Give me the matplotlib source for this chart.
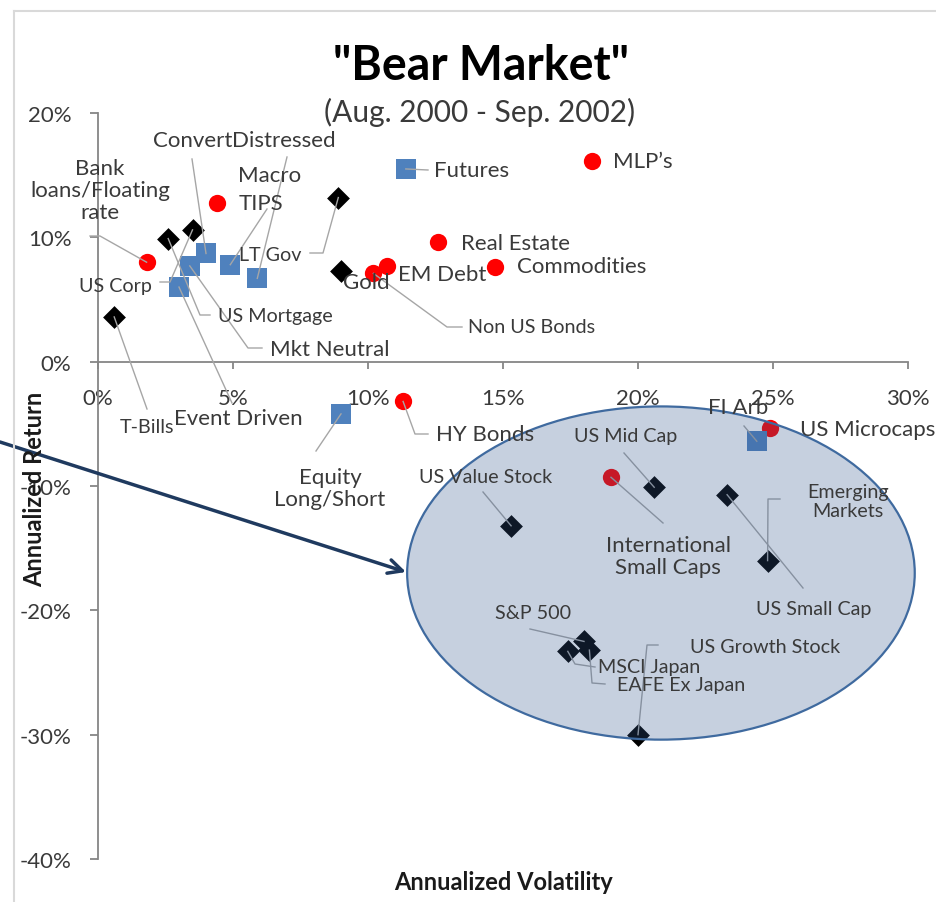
import matplotlib
matplotlib.use("Agg")
import matplotlib.pyplot as plt
from matplotlib.patches import Ellipse
from matplotlib.lines import Line2D

plt.rcParams['font.family'] = ['Lato', 'DejaVu Sans']

# ---------------- data ----------------
circle_names = ["Bank\nloans/Floating\nrate", "TIPS", "MLP\u2019s", "Real Estate", "Commodities",
                "EM Debt", "Non US Bonds", "HY Bonds", "US Microcaps", "International\nSmall Caps"]
circle_vol = [1.8, 4.4, 18.3, 12.6, 14.7, 10.7, 10.2, 11.3, 24.9, 19.0]
circle_ret = [8.0, 12.8, 16.1, 9.6, 7.6, 7.7, 7.1, -3.2, -5.3, -9.3]

square_names = ["Futures", "Event Driven", "Mkt Neutral", "Convert", "Macro", "Distressed",
                "Equity\nLong/Short", "FI Arb"]
square_vol = [11.4, 3.0, 3.4, 4.0, 4.9, 5.9, 9.0, 24.4]
square_ret = [15.5, 6.0, 7.7, 8.7, 7.8, 6.7, -4.2, -6.4]

diamond_names = ["T-Bills", "US Mortgage", "US Corp", "LT Gov", "Gold", "US Mid Cap", "US Small Cap",
                 "Emerging\nMarkets", "US Value Stock", "S&P 500", "MSCI Japan", "EAFE Ex Japan",
                 "US Growth Stock"]
diamond_vol = [0.6, 2.6, 3.5, 8.9, 9.0, 20.6, 23.3, 24.8, 15.3, 18.0, 17.4, 18.2, 20.0]
diamond_ret = [3.6, 9.9, 10.6, 13.2, 7.3, -10.1, -10.7, -16.0, -13.2, -22.5, -23.3, -23.2, -30.0]

x_ticks = [0, 5, 10, 15, 20, 25, 30]
y_ticks = [-40, -30, -20, -10, 0, 10, 20]

# ---------------- layout helpers ----------------
W, H = 936, 903
AX_L, AX_R, AX_T, AX_B = 98, 908, 114, 860


def P(x, y):
    """reference-pixel position -> data coords (layout only)"""
    return ((x - AX_L) / (AX_R - AX_L) * 30.0, 20.0 - (y - AX_T) / (AX_B - AX_T) * 60.0)


BIG, SMALL = 16, 14.2
# name: (px, py, ha, size, leader pixel points)
labels = {
    "Bank\nloans/Floating\nrate": (100, 191, 'center', BIG, [(90, 237), (100, 237)]),
    "TIPS": (239, 204, 'left', BIG, []),
    "MLP\u2019s": (613, 162, 'left', BIG, []),
    "Real Estate": (461, 244, 'left', BIG, []),
    "Commodities": (517, 267, 'left', BIG, []),
    "EM Debt": (398, 275, 'left', BIG, []),
    "Non US Bonds": (468, 328, 'left', SMALL, [(462, 328), (447, 328)]),
    "HY Bonds": (436, 435, 'left', BIG, [(428, 435), (415, 435)]),
    "US Microcaps": (800, 430, 'left', BIG, []),
    "International\nSmall Caps": (668, 557, 'center', BIG, [(663, 524)]),
    "Futures": (434, 171, 'left', BIG, [(428, 171)]),
    "Event Driven": (238, 419, 'center', BIG, [(232, 404)]),
    "Mkt Neutral": (270, 350, 'left', BIG, [(262, 349), (248, 349)]),
    "Convert": (232, 141, 'right', BIG, [(192, 160)]),
    "Macro": (270, 176, 'center', BIG, [(267, 210)]),
    "Distressed": (232, 141, 'left', BIG, [(287, 158)]),
    "Equity\nLong/Short": (330, 489, 'center', BIG, [(316, 452)]),
    "FI Arb": (738, 408, 'center', BIG, [(744, 427)]),
    "T-Bills": (147, 428, 'center', SMALL, [(147, 410)]),
    "US Mortgage": (218, 317, 'left', SMALL, [(210, 316), (200, 316)]),
    "US Corp": (152, 287, 'right', SMALL, [(160, 283), (170, 283)]),
    "LT Gov": (270, 256, 'center', SMALL, [(310, 254), (323, 254)]),
    "Gold": (343, 283, 'left', BIG, []),
    "US Mid Cap": (626, 437, 'center', SMALL, [(624, 454)]),
    "US Small Cap": (814, 610, 'center', SMALL, [(803, 589)]),
    "Emerging\nMarkets": (848, 502, 'center', SMALL, [(780, 500), (768, 500)]),
    "US Value Stock": (486, 478, 'center', SMALL, [(483, 493)]),
    "S&P 500": (533, 614, 'center', SMALL, [(530, 630)]),
    "MSCI Japan": (598, 668, 'left', SMALL, [(595, 668), (575, 665)]),
    "EAFE Ex Japan": (617, 686, 'left', SMALL, [(605, 685), (592, 684)]),
    "US Growth Stock": (690, 648, 'left', SMALL, [(658, 646), (647, 646)]),
}

TXT = '#3a3a3a'
fig = plt.figure(figsize=(W / 100, H / 100), dpi=100)
ax = fig.add_axes([AX_L / W, 1 - AX_B / H, (AX_R - AX_L) / W, (AX_B - AX_T) / H])
ax.set_xlim(0, 30)
ax.set_ylim(-40, 20)

# markers
ax.scatter(circle_vol, circle_ret, s=155, marker='o', color='#ff0000', linewidths=0, zorder=3, clip_on=False)
ax.scatter(square_vol, square_ret, s=210, marker='s', color='#4f81bd', linewidths=0, zorder=3, clip_on=False)
ax.scatter(diamond_vol, diamond_ret, s=135, marker='D', color='#000000', linewidths=0, zorder=3, clip_on=False)

# labels and leader lines
for names, xs, ys in [(circle_names, circle_vol, circle_ret),
                      (square_names, square_vol, square_ret),
                      (diamond_names, diamond_vol, diamond_ret)]:
    for n, xv, yv in zip(names, xs, ys):
        px, py, ha, size, lead = labels[n]
        tx, ty = P(px, py)
        ax.text(tx, ty, n, ha=ha, va='center', fontsize=size, color=TXT, zorder=6,
                linespacing=1.15, multialignment='center')
        if lead:
            pts = [P(a, b) for a, b in lead] + [(xv, yv)]
            ax.plot([p[0] for p in pts], [p[1] for p in pts], color='#a6a6a6', lw=1.0,
                    zorder=4, clip_on=False)

# highlight ellipse
ell = Ellipse((20.85, -17.0), 18.8, 26.8, facecolor=(52 / 255, 89 / 255, 143 / 255, 0.28),
              edgecolor='#3f6a9f', lw=1.6, zorder=5, clip_on=False)
ax.add_patch(ell)

# axes styling
for s in ['top', 'right']:
    ax.spines[s].set_visible(False)
ax.spines['bottom'].set_position(('data', 0))
for s in ['left', 'bottom']:
    ax.spines[s].set_color('#868686')
    ax.spines[s].set_linewidth(1.3)
ax.set_xticks(x_ticks)
ax.set_xticklabels([f"{v}%" for v in x_ticks])
ax.set_yticks(y_ticks)
ax.set_yticklabels([f"{v}%" for v in y_ticks])
ax.tick_params(axis='x', direction='out', length=5, width=1.3, color='#868686', pad=14,
               labelsize=BIG, labelcolor=TXT)
ax.tick_params(axis='y', direction='out', length=6, width=1.3, color='#868686', pad=13,
               labelsize=BIG, labelcolor=TXT)
ax.patch.set_visible(False)

# titles
fig.text(481 / W, 1 - 80 / H, '"Bear Market"', ha='center', va='baseline', fontsize=33.5,
         fontweight='bold', color='#000000')
fig.text(480 / W, 1 - 122 / H, '(Aug. 2000 - Sep. 2002)', ha='center', va='baseline',
         fontsize=21.5, color=TXT)
fig.text(503 / W, 1 - 883 / H, 'Annualized Volatility', ha='center', va='center', fontsize=17,
         fontweight='bold', color='#1a1a1a')
fig.text(35 / W, 1 - 489 / H, 'Annualized Return', ha='center', va='center', fontsize=17,
         fontweight='bold', color='#1a1a1a', rotation=90)

# chart-area frame (light grey)
fig.add_artist(Line2D([14 / W, 14 / W], [0, 1 - 12 / H], transform=fig.transFigure,
                      color='#d9d9d9', lw=1.5))
fig.add_artist(Line2D([14 / W, 1], [1 - 12 / H, 1 - 12 / H], transform=fig.transFigure,
                      color='#d9d9d9', lw=1.5))

# call-out arrow pointing to the ellipse
ax.annotate('', xy=(406 / W, 1 - 573 / H), xycoords='figure fraction',
            xytext=(0, 1 - 443 / H), textcoords='figure fraction',
            arrowprops=dict(arrowstyle='->,head_length=1.0,head_width=0.5', color='#1f3a5f',
                            lw=2.5, shrinkA=0, shrinkB=0), zorder=7)

fig.savefig('out.png', dpi=100)
